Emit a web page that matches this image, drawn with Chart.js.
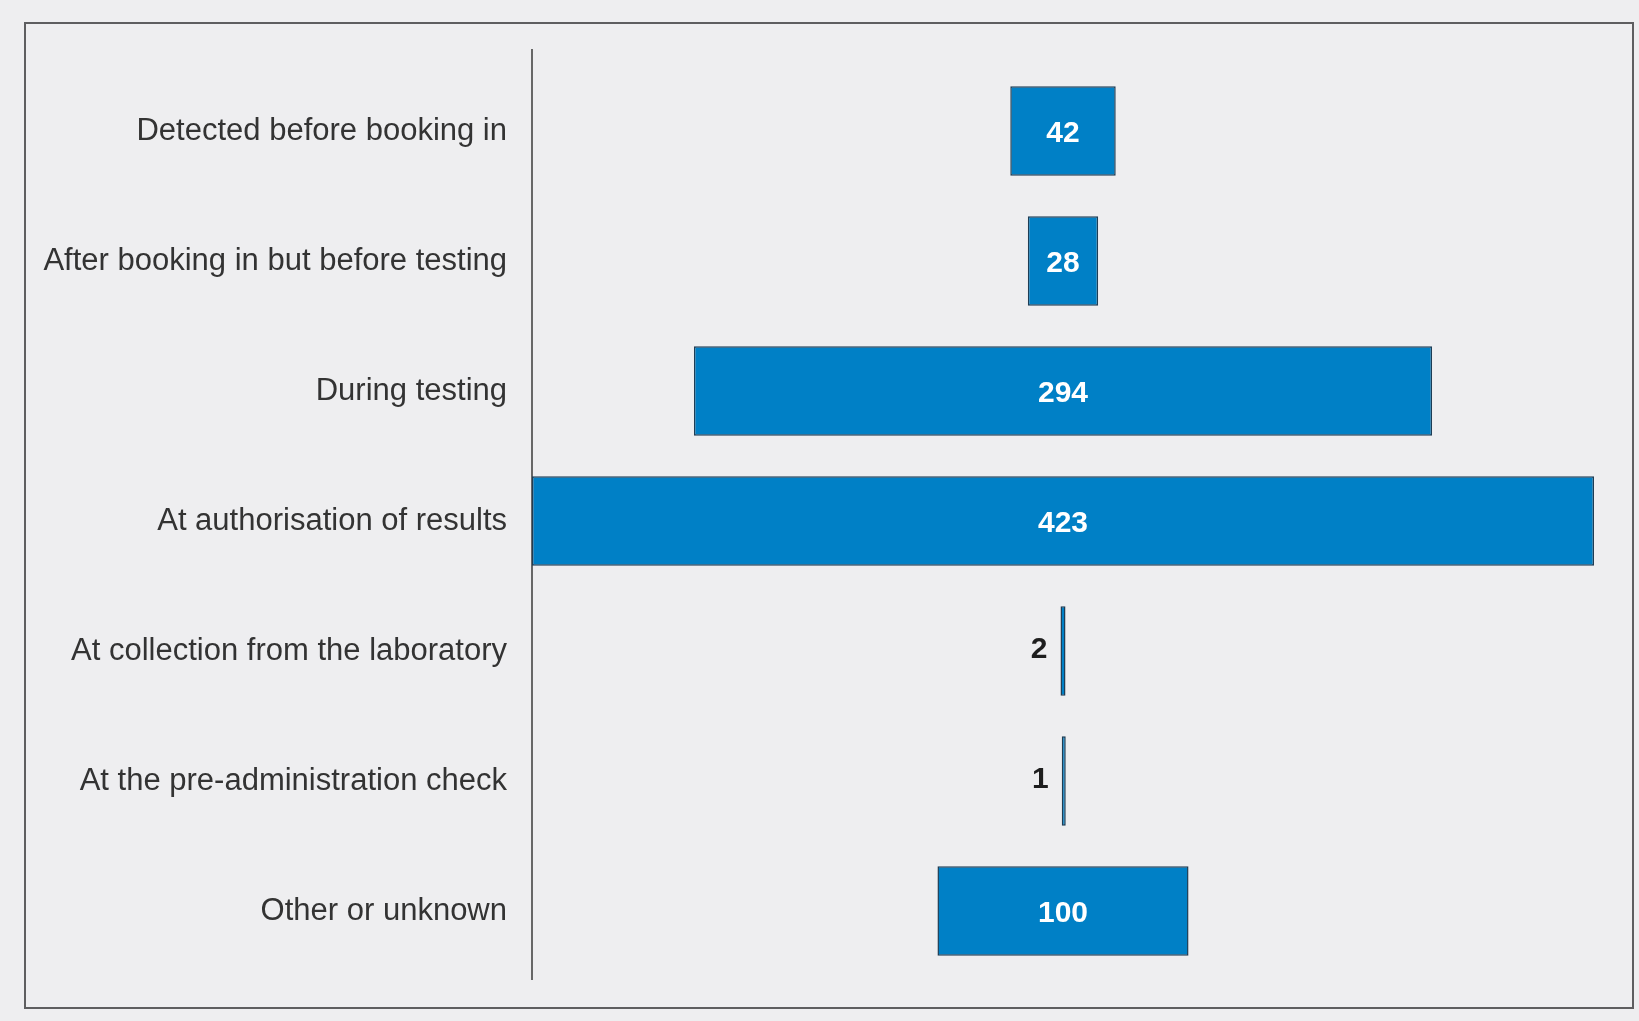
<!DOCTYPE html>
<html>
<head>
<meta charset="utf-8">
<script src="https://cdn.jsdelivr.net/npm/chart.js@4.4.1/dist/chart.umd.min.js"></script>
<style>
  html, body { margin: 0; padding: 0; background: #EEEEF0; overflow: hidden; }
  canvas { display: block; }
</style>
</head>
<body>
<canvas id="c" width="1639" height="1021"></canvas>
<script>
const categories = [
  "Detected before booking in",
  "After booking in but before testing",
  "During testing",
  "At authorisation of results",
  "At collection from the laboratory",
  "At the pre-administration check",
  "Other or unknown"
];
const counts = [42, 28, 294, 423, 2, 1, 100];

const maxCount = Math.max(...counts);
const floatingData = counts.map(v => [-v / 2, v / 2]);

const framePlugin = {
  id: 'frame',
  beforeDraw(chart) {
    const ctx = chart.ctx;
    ctx.save();
    ctx.fillStyle = '#EEEEF0';
    ctx.fillRect(0, 0, chart.width, chart.height);
    ctx.strokeStyle = '#5e5e60';
    ctx.lineWidth = 2;
    ctx.strokeRect(25, 23, 1608, 985);
    const a = chart.chartArea;
    ctx.strokeStyle = '#3a3a3a';
    ctx.lineWidth = 1.5;
    ctx.beginPath();
    ctx.moveTo(a.left, a.top - 17);
    ctx.lineTo(a.left, a.bottom + 4);
    ctx.stroke();
    ctx.restore();
  }
};

const valueLabelPlugin = {
  id: 'valueLabels',
  afterDatasetsDraw(chart) {
    const ctx = chart.ctx;
    const meta = chart.getDatasetMeta(0);
    ctx.save();
    ctx.font = 'bold 30px "Liberation Sans", Arial, sans-serif';
    ctx.textBaseline = 'middle';
    meta.data.forEach((bar, i) => {
      const left = Math.min(bar.x, bar.base);
      const right = Math.max(bar.x, bar.base);
      const w = right - left;
      const txt = String(counts[i]);
      if (w > 60) {
        ctx.fillStyle = '#ffffff';
        ctx.textAlign = 'center';
        ctx.fillText(txt, (left + right) / 2, bar.y + 3);
      } else {
        ctx.fillStyle = '#1e1e1e';
        ctx.textAlign = 'right';
        ctx.fillText(txt, left - 13, bar.y - 1);
      }
    });
    ctx.restore();
  }
};

new Chart(document.getElementById('c'), {
  type: 'bar',
  data: {
    labels: categories,
    datasets: [{
      data: floatingData,
      backgroundColor: '#0080C6',
      borderColor: '#1d3d55',
      borderWidth: 1.5,
      borderSkipped: false,
      barPercentage: 0.69,
      categoryPercentage: 1.0,
      minBarLength: 4
    }]
  },
  options: {
    indexAxis: 'y',
    responsive: false,
    animation: false,
    layout: { padding: { left: 0, top: 66, right: 45, bottom: 45 } },
    plugins: {
      legend: { display: false },
      tooltip: { enabled: false }
    },
    scales: {
      x: {
        display: false,
        min: -maxCount / 2,
        max: maxCount / 2
      },
      y: {
        grid: { display: false, drawTicks: false },
        border: { display: false },
        ticks: {
          padding: 25,
          color: '#333333',
          font: { family: '"Liberation Sans", Arial, sans-serif', size: 31, weight: 'normal' }
        },
        afterFit(scale) { scale.width = 532; }
      }
    }
  },
  plugins: [framePlugin, valueLabelPlugin]
});
</script>
</body>
</html>
